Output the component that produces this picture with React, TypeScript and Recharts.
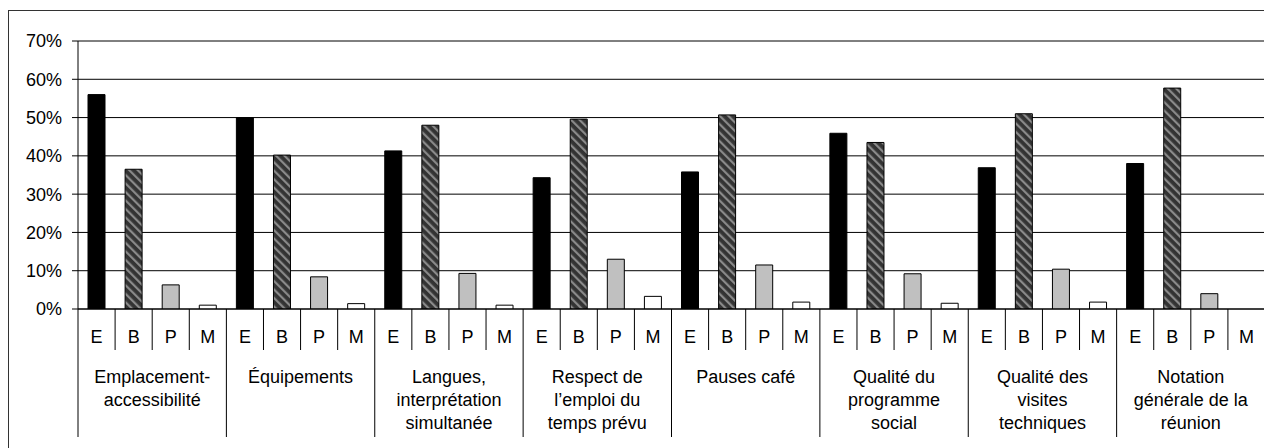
import React from 'react'
import { BarChart, Bar, Cell, XAxis, YAxis, CartesianGrid } from 'recharts'

// Ratings per topic, in % of answers (E / B / P / M)
const groupLabels: string[][] = [
  ['Emplacement-', 'accessibilité'],
  ['Équipements'],
  ['Langues,', 'interprétation', 'simultanée'],
  ['Respect de', 'l’emploi du', 'temps prévu'],
  ['Pauses café'],
  ['Qualité du', 'programme', 'social'],
  ['Qualité des', 'visites', 'techniques'],
  ['Notation', 'générale de la', 'réunion'],
]
const letters = ['E', 'B', 'P', 'M']
const valuesE = [56, 50, 41.3, 34.3, 35.8, 45.9, 36.9, 38]
const valuesB = [36.5, 40.2, 48, 49.6, 50.7, 43.5, 51, 57.7]
const valuesP = [6.3, 8.4, 9.3, 13, 11.5, 9.2, 10.4, 4]
const valuesM = [1, 1.4, 1, 3.3, 1.8, 1.5, 1.8, 0]
const yTicks = [0, 0.1, 0.2, 0.3, 0.4, 0.5, 0.6, 0.7]

const seriesByLetter: Record<string, number[]> = { E: valuesE, B: valuesB, P: valuesP, M: valuesM }
const fillByLetter: Record<string, string> = { E: '#000000', B: 'url(#hatch)', P: '#c0c0c0', M: '#ffffff' }

const rows = groupLabels.flatMap((_, g) =>
  letters.map((l) => ({ key: `${g}-${l}`, group: g, letter: l, value: seriesByLetter[l][g] / 100 }))
)

const CHART_W = 1266
const CHART_H = 448
const MARGIN = { top: 41, right: 1, bottom: 0, left: 8 }
const Y_W = 70
const PLOT_W = CHART_W - MARGIN.left - MARGIN.right - Y_W
const BAND = PLOT_W / rows.length
const FONT = 18

function CategoryTick(props: any) {
  const { x, y, payload } = props
  const row = rows.find((r) => r.key === payload.value)
  if (!row) return null
  const left = x - BAND / 2
  const first = row.letter === 'E'
  const last = row.key === rows[rows.length - 1].key
  return (
    <g>
      <line x1={left} x2={left} y1={y} y2={y + (first ? 128 : 41)} stroke="#000" />
      {last && <line x1={left + BAND} x2={left + BAND} y1={y} y2={y + 128} stroke="#000" />}
      <text x={x} y={y + 34} textAnchor="middle" fontSize={FONT} fill="#000">
        {row.letter}
      </text>
      {first && (
        <text x={left + BAND * 2} y={y + 74} textAnchor="middle" fontSize={FONT} fill="#000">
          {groupLabels[row.group].map((line, i) => (
            <tspan key={i} x={left + BAND * 2} dy={i === 0 ? 0 : 23}>
              {line}
            </tspan>
          ))}
        </text>
      )}
    </g>
  )
}

export default function App() {
  return (
    <div
      style={{
        position: 'fixed', left: 0, top: 0, width: 1264, height: 448, overflow: 'hidden',
        background: '#fff', fontFamily: '"Liberation Sans", Arial, sans-serif',
      }}
    >
      {/* Outer frame, cut by the window on the right and bottom */}
      <div style={{ position: 'absolute', left: 8, top: 10, width: 1300, height: 500, border: '1px solid #333' }} />
      <div style={{ position: 'absolute', left: 0, top: 0 }}>
        <BarChart width={CHART_W} height={CHART_H} data={rows} margin={MARGIN} barSize={17}>
          <defs>
            <pattern id="hatch" patternUnits="userSpaceOnUse" width={6} height={6} patternTransform="rotate(-45)">
              <rect width={6} height={6} fill="#333333" />
              <rect width={2.2} height={6} fill="#8a8a8a" />
            </pattern>
          </defs>
          <CartesianGrid vertical={false} stroke="#000" />
          <YAxis
            width={Y_W}
            domain={[0, 0.7]}
            ticks={yTicks}
            tickFormatter={(v: number) => `${Math.round(v * 100)}%`}
            axisLine={{ stroke: '#000' }}
            tickLine={{ stroke: '#000' }}
            tickSize={6}
            tickMargin={10}
            tick={{ fill: '#000', fontSize: FONT }}
            allowDataOverflow
          />
          <XAxis
            dataKey="key"
            height={139}
            interval={0}
            tickSize={0}
            tickMargin={0}
            tickLine={false}
            axisLine={{ stroke: '#000' }}
            tick={<CategoryTick />}
          />
          <Bar dataKey="value" stroke="#000" strokeWidth={1} isAnimationActive={false}>
            {rows.map((r) => (
              <Cell key={r.key} fill={fillByLetter[r.letter]} />
            ))}
          </Bar>
        </BarChart>
      </div>
    </div>
  )
}
